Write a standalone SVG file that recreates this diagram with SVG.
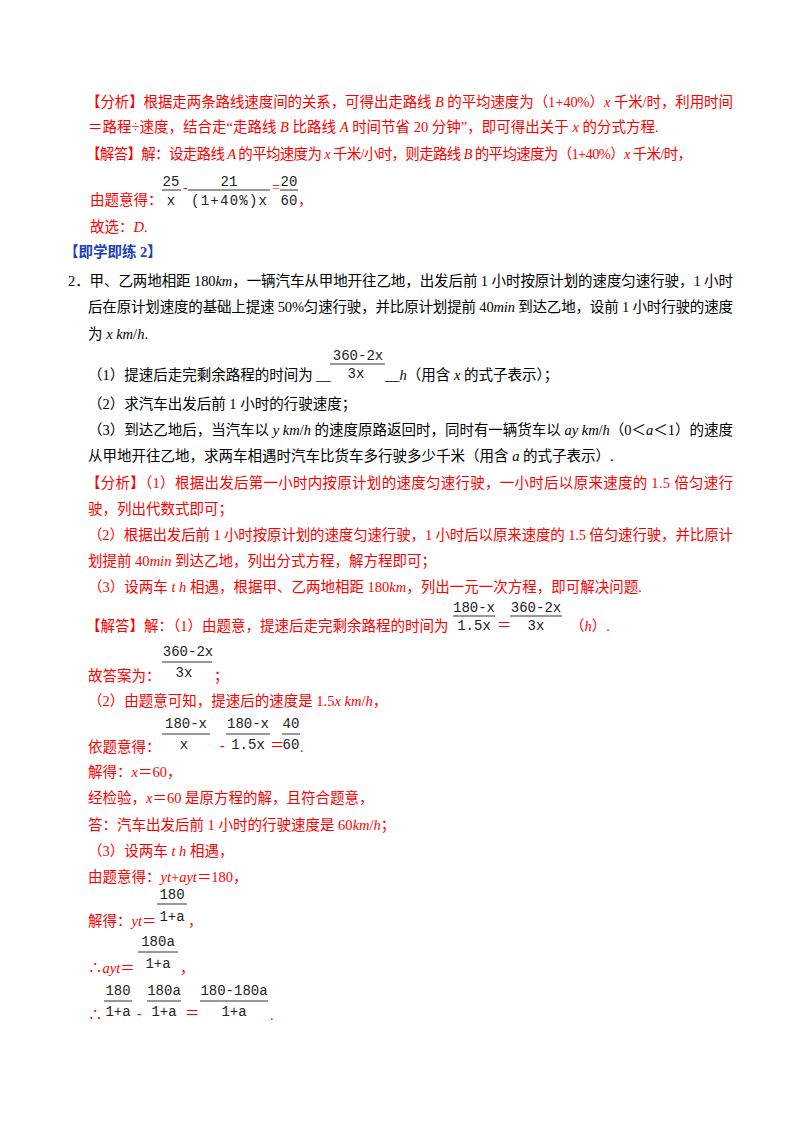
<svg xmlns="http://www.w3.org/2000/svg" width="800" height="1132" viewBox="0 0 800 1132">
<style>
text{font-family:"Liberation Serif","Noto Sans CJK SC",serif;font-size:14.5px}
.r{fill:#f00}.k{fill:#000}.bl{fill:#1a3fc0;font-weight:bold}
.i{font-style:italic}
.m{font-family:"Liberation Mono","DejaVu Sans Mono",monospace;font-size:14px;fill:#222;text-anchor:middle}
.bar{stroke:#333;stroke-width:1}
</style>
<rect width="800" height="1132" fill="#fff"/>
<g id="analysis1" class="r">
<text x="86" y="107" textLength="647" lengthAdjust="spacing">【分析】根据走两条路线速度间的关系，可得出走路线 <tspan class="i">B</tspan> 的平均速度为（1+40%）<tspan class="i">x</tspan> 千米/时，利用时间</text>
<text x="88" y="132">＝路程÷速度，结合走“走路线 <tspan class="i">B</tspan> 比路线 <tspan class="i">A</tspan> 时间节省 20 分钟”，即可得出关于 <tspan class="i">x</tspan> 的分式方程.</text>
<text x="86" y="159" textLength="606" lengthAdjust="spacing">【解答】解：设走路线 <tspan class="i">A</tspan> 的平均速度为 <tspan class="i">x</tspan> 千米/小时，则走路线 <tspan class="i">B</tspan> 的平均速度为（1+40%）<tspan class="i">x</tspan> 千米/时，</text>
<text x="90" y="205">由题意得：</text>
<text x="183" y="192">-</text><text x="272" y="192">=</text><text x="298" y="205">，</text>
<text x="90" y="232">故选：<tspan class="i">D</tspan>.</text>
</g>
<g id="frac1">
<text class="m" x="171" y="186">25</text><line class="bar" x1="162" y1="190" x2="181" y2="190"/><text class="m" x="171" y="205">x</text>
<text class="m" x="229" y="186">21</text><line class="bar" x1="188" y1="190" x2="270" y2="190"/><text class="m" x="229" y="205" textLength="76" lengthAdjust="spacing">(1+40%)x</text>
<text class="m" x="289" y="186">20</text><line class="bar" x1="280" y1="190" x2="298" y2="190"/><text class="m" x="289" y="205">60</text>
</g>
<g id="heading"><text class="bl" x="64" y="257">【即学即练 2】</text></g>
<g id="question" class="k">
<text x="68" y="286" textLength="665" lengthAdjust="spacing">2．甲、乙两地相距 180<tspan class="i">km</tspan>，一辆汽车从甲地开往乙地，出发后前 1 小时按原计划的速度匀速行驶，1 小时</text>
<text x="88" y="312" textLength="645" lengthAdjust="spacing">后在原计划速度的基础上提速 50%匀速行驶，并比原计划提前 40<tspan class="i">min</tspan> 到达乙地，设前 1 小时行驶的速度</text>
<text x="88" y="339">为 <tspan class="i">x</tspan>  <tspan class="i">km</tspan>/<tspan class="i">h</tspan>.</text>
<text x="88" y="380">（1）提速后走完剩余路程的时间为 __</text>
<text x="385" y="380">__<tspan class="i">h</tspan>（用含 <tspan class="i">x</tspan> 的式子表示）；</text>
<text x="88" y="409">（2）求汽车出发后前 1 小时的行驶速度；</text>
<text x="88" y="435" textLength="645" lengthAdjust="spacing">（3）到达乙地后，当汽车以 <tspan class="i">y</tspan>  <tspan class="i">km</tspan>/<tspan class="i">h</tspan> 的速度原路返回时，同时有一辆货车以 <tspan class="i">ay</tspan>  <tspan class="i">km</tspan>/<tspan class="i">h</tspan>（0＜<tspan class="i">a</tspan>＜1）的速度</text>
<text x="88" y="461">从甲地开往乙地，求两车相遇时汽车比货车多行驶多少千米（用含 <tspan class="i">a</tspan> 的式子表示）.</text>
</g>
<g id="frac2">
<text class="m" x="358" y="360">360-2x</text><line class="bar" x1="330" y1="364" x2="385" y2="364"/><text class="m" x="356" y="378">3x</text>
</g>
<g id="analysis2" class="r">
<text x="86" y="488" textLength="647" lengthAdjust="spacing">【分析】（1）根据出发后第一小时内按原计划的速度匀速行驶，一小时后以原来速度的 1.5 倍匀速行</text>
<text x="88" y="514">驶，列出代数式即可；</text>
<text x="88" y="540" textLength="645" lengthAdjust="spacing">（2）根据出发后前 1 小时按原计划的速度匀速行驶，1 小时后以原来速度的 1.5 倍匀速行驶，并比原计</text>
<text x="88" y="566">划提前 40<tspan class="i">min</tspan> 到达乙地，列出分式方程，解方程即可；</text>
<text x="88" y="592">（3）设两车 <tspan class="i">t</tspan>  <tspan class="i">h</tspan> 相遇，根据甲、乙两地相距 180<tspan class="i">km</tspan>，列出一元一次方程，即可解决问题.</text>
</g>
<g id="answer" class="r">
<text x="86" y="631">【解答】解：（1）由题意，提速后走完剩余路程的时间为</text>
<text x="497" y="630">＝</text><text x="570" y="631">（<tspan class="i">h</tspan>）.</text>
<text x="88" y="681">故答案为：</text><text x="214" y="681">；</text>
<text x="88" y="706">（2）由题意可知，提速后的速度是 1.5<tspan class="i">x</tspan>  <tspan class="i">km</tspan>/<tspan class="i">h</tspan>，</text>
<text x="88" y="752">依题意得：</text><text x="220" y="750">-</text><text x="270" y="750">＝</text><text x="300" y="752">.</text>
<text x="88" y="777">解得：<tspan class="i">x</tspan>＝60，</text>
<text x="88" y="803">经检验，<tspan class="i">x</tspan>＝60 是原方程的解，且符合题意，</text>
<text x="88" y="830">答：汽车出发后前 1 小时的行驶速度是 60<tspan class="i">km</tspan>/<tspan class="i">h</tspan>；</text>
<text x="88" y="856">（3）设两车 <tspan class="i">t</tspan>  <tspan class="i">h</tspan> 相遇，</text>
<text x="88" y="882">由题意得：<tspan class="i">yt</tspan>+<tspan class="i">ayt</tspan>＝180，</text>
<text x="88" y="926">解得：<tspan class="i">yt</tspan>＝</text><text x="188" y="926">，</text>
<text x="88" y="973">∴<tspan class="i">ayt</tspan>＝</text><text x="180" y="973">，</text>
<text x="88" y="1020">∴</text><text x="137" y="1018">-</text><text x="185" y="1018">＝</text><text x="270" y="1020">.</text>
</g>
<g id="frac3">
<text class="m" x="474" y="612">180-x</text><line class="bar" x1="453" y1="616" x2="495" y2="616"/><text class="m" x="474" y="630">1.5x</text>
<text class="m" x="536" y="612">360-2x</text><line class="bar" x1="510" y1="616" x2="562" y2="616"/><text class="m" x="536" y="630">3x</text>
<text class="m" x="188" y="656">360-2x</text><line class="bar" x1="162" y1="662" x2="212" y2="662"/><text class="m" x="184" y="677">3x</text>
<text class="m" x="186" y="728">180-x</text><line class="bar" x1="162" y1="734" x2="210" y2="734"/><text class="m" x="184" y="749">x</text>
<text class="m" x="248" y="728">180-x</text><line class="bar" x1="226" y1="734" x2="270" y2="734"/><text class="m" x="248" y="749">1.5x</text>
<text class="m" x="291" y="728">40</text><line class="bar" x1="282" y1="734" x2="300" y2="734"/><text class="m" x="291" y="749">60</text>
<text class="m" x="172" y="899">180</text><line class="bar" x1="157" y1="904" x2="187" y2="904"/><text class="m" x="172" y="921">1+a</text>
<text class="m" x="158" y="946">180a</text><line class="bar" x1="138" y1="952" x2="178" y2="952"/><text class="m" x="158" y="968">1+a</text>
<text class="m" x="118" y="995">180</text><line class="bar" x1="104" y1="1001" x2="132" y2="1001"/><text class="m" x="118" y="1016">1+a</text>
<text class="m" x="164" y="995">180a</text><line class="bar" x1="147" y1="1001" x2="181" y2="1001"/><text class="m" x="164" y="1016">1+a</text>
<text class="m" x="234" y="995">180-180a</text><line class="bar" x1="200" y1="1001" x2="268" y2="1001"/><text class="m" x="234" y="1016">1+a</text>
</g>
</svg>
